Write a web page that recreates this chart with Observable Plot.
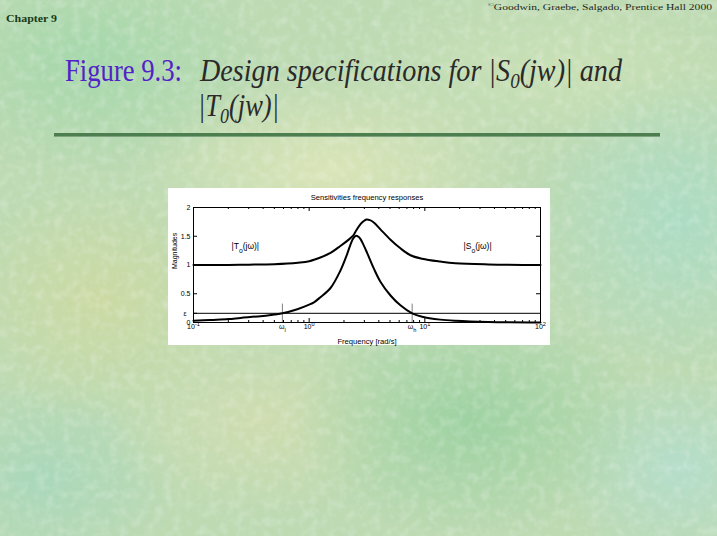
<!DOCTYPE html>
<html>
<head>
<meta charset="utf-8">
<script src="https://cdn.jsdelivr.net/npm/d3@7"></script>
<script src="https://cdn.jsdelivr.net/npm/@observablehq/plot@0.6"></script>
<style>
html, body { margin: 0; padding: 0; width: 717px; height: 536px; overflow: hidden; }
#slide {
  position: relative; width: 717px; height: 536px;
  background-color: #bddab3;
  background-image:
    radial-gradient(ellipse 180px 120px at 90px 60px, rgba(160,215,170,0.8), rgba(160,215,170,0)),
    radial-gradient(ellipse 200px 100px at 330px 170px, rgba(228,232,185,0.75), rgba(228,232,185,0)),
    radial-gradient(ellipse 150px 120px at 100px 300px, rgba(208,218,160,0.8), rgba(208,218,160,0)),
    radial-gradient(ellipse 180px 120px at 470px 420px, rgba(150,208,158,0.8), rgba(150,208,158,0)),
    radial-gradient(ellipse 150px 150px at 680px 220px, rgba(168,220,200,0.8), rgba(168,220,200,0)),
    radial-gradient(ellipse 160px 100px at 260px 420px, rgba(215,222,175,0.7), rgba(215,222,175,0)),
    radial-gradient(ellipse 140px 100px at 40px 480px, rgba(165,215,188,0.8), rgba(165,215,188,0)),
    radial-gradient(ellipse 120px 100px at 680px 470px, rgba(178,222,208,0.8), rgba(178,222,208,0)),
    radial-gradient(ellipse 220px 90px at 560px 70px, rgba(205,226,182,0.7), rgba(205,226,182,0));
}
#deco { position: absolute; left: 0; top: 0; }
#chart { position: absolute; left: 168px; top: 188px; line-height: 0; }
</style>
</head>
<body>
<div id="slide">
  <svg id="deco" width="717" height="536">
    <defs>
      <filter id="tex" x="0" y="0" width="100%" height="100%">
        <feTurbulence type="fractalNoise" baseFrequency="0.11" numOctaves="2" seed="4"/>
        <feColorMatrix type="matrix" values="0 0 0 0 1  0 0 0 0 1  0 0 0 0 1  0 0 0 -2.2 1.25"/>
      </filter>
    </defs>
    <rect x="0" y="0" width="717" height="536" filter="url(#tex)" opacity="0.22"/>
    <text x="488" y="10" font-family="Liberation Serif, Times New Roman, serif" font-size="9" fill="#1e2a1e" textLength="224" lengthAdjust="spacingAndGlyphs"><tspan font-size="6" dy="-3">©</tspan><tspan dy="3">Goodwin, Graebe, Salgado, Prentice Hall 2000</tspan></text>
    <text x="6" y="22" font-family="Liberation Serif, Times New Roman, serif" font-weight="bold" font-size="10.5" fill="#173a17" textLength="51" lengthAdjust="spacingAndGlyphs">Chapter 9</text>
    <text x="65" y="81" font-family="Liberation Serif, Times New Roman, serif" font-size="31" fill="#5222c8" textLength="117" lengthAdjust="spacingAndGlyphs">Figure 9.3:</text>
    <text x="200" y="81" font-family="Liberation Serif, Times New Roman, serif" font-style="italic" font-size="31" fill="#2a2a2a" textLength="422" lengthAdjust="spacingAndGlyphs">Design specifications for |S<tspan font-size="21" dy="7">0</tspan><tspan dy="-7">(jw)| and</tspan></text>
    <text x="198" y="116" font-family="Liberation Serif, Times New Roman, serif" font-style="italic" font-size="31" fill="#2a2a2a" textLength="81" lengthAdjust="spacingAndGlyphs">|T<tspan font-size="21" dy="7">0</tspan><tspan dy="-7">(jw)|</tspan></text>
    <rect x="54" y="133" width="606" height="4" fill="#4d7e4f"/>
    <rect x="54" y="136" width="606" height="1" fill="#7ea47f"/>
  </svg>
  <div id="chart"></div>
</div>
<script>
// ---- data ----
const xDomain = [0.1, 100];
const yDomain = [0, 2];

const tFreq = [0.10, 0.14, 0.20, 0.255, 0.38, 0.50, 0.587, 0.79, 1.00, 1.10, 1.25, 1.53, 1.86, 2.13, 2.28, 2.42, 2.55, 2.67, 2.78, 2.95, 3.17, 3.62, 4.13, 5.05, 6.15, 7.77, 9.48, 13.6, 18.4, 35.5, 100];
const tMag  = [0.03, 0.045, 0.06, 0.08, 0.11, 0.14, 0.16, 0.23, 0.31, 0.35, 0.44, 0.60, 0.90, 1.19, 1.36, 1.47, 1.51, 1.49, 1.45, 1.35, 1.21, 0.94, 0.71, 0.47, 0.30, 0.16, 0.10, 0.05, 0.03, 0.01, 0.002];

const sFreq = [0.10, 0.20, 0.30, 0.50, 0.80, 1.00, 1.25, 1.53, 1.86, 2.13, 2.28, 2.42, 2.55, 2.78, 2.95, 3.13, 3.35, 3.62, 4.13, 5.05, 6.15, 7.51, 9.48, 13.6, 18.4, 35.5, 100];
const sMag  = [1.00, 1.002, 1.006, 1.015, 1.04, 1.065, 1.13, 1.21, 1.33, 1.42, 1.47, 1.52, 1.60, 1.71, 1.76, 1.79, 1.78, 1.74, 1.62, 1.44, 1.29, 1.17, 1.11, 1.06, 1.03, 1.01, 1.00];

const epsilon = 0.16;
const omegaL = 0.587;
const omegaH = 7.77;
const specTickTop = 0.32;

const xTickValues = [0.1, 1, 10, 100];
const xTickLabels = ["10^{-1}", "10^{0}", "10^{1}", "10^{2}"];
const xMinorTicks = [0.2, 0.3, 0.4, 0.5, 0.6, 0.7, 0.8, 0.9, 2, 3, 4, 5, 6, 7, 8, 9, 20, 30, 40, 50, 60, 70, 80, 90];
const omegaLabels = ["ω_{l}", "ω_{h}"];
const yTickValues = [0, 0.5, 1, 1.5, 2];
const yTickLabels = ["0", "0.5", "1", "1.5", "2"];
const epsilonLabel = "ε";

const curveNames = ["|T_{o}(jω)|", "|S_{o}(jω)|"];
const curveLabelFreq = [0.213, 21.6];
const curveLabelMag = [1.32, 1.32];

const chartTitle = "Sensitivities frequency responses";
const xLabel = "Frequency [rad/s]";
const yLabel = "Magnitudes";

// ---- build rows ----
const tRows = tFreq.map((f, i) => ({f, m: tMag[i]}));
const sRows = sFreq.map((f, i) => ({f, m: sMag[i]}));
const xLabelRows = xTickValues.map((v, i) => ({v, label: xTickLabels[i]}))
  .concat([{v: omegaL, label: omegaLabels[0]}, {v: omegaH, label: omegaLabels[1]}]);
const yLabelRows = yTickValues.map((v, i) => ({v, label: yTickLabels[i]}));
const curveLabelRows = curveNames.map((n, i) => ({n, f: curveLabelFreq[i], m: curveLabelMag[i]}));

const W = 382, H = 157, mL = 25, mR = 10, mT = 19, mB = 23;
const innerW = W - mL - mR, innerH = H - mT - mB;

const chart = Plot.plot({
  width: W, height: H,
  marginLeft: mL, marginRight: mR, marginTop: mT, marginBottom: mB,
  x: {type: "log", domain: xDomain, axis: null},
  y: {domain: yDomain, axis: null},
  style: {background: "white", fontFamily: "Liberation Sans, Arial, Helvetica, sans-serif", fontSize: "7px", color: "black", overflow: "visible"},
  marks: [
    Plot.ruleY([epsilon], {stroke: "black", strokeWidth: 1}),
    Plot.ruleX([omegaL, omegaH], {y1: 0, y2: specTickTop, stroke: "#808080", strokeWidth: 1}),
    Plot.line(tRows, {x: "f", y: "m", curve: "catmull-rom", stroke: "black", strokeWidth: 2}),
    Plot.line(sRows, {x: "f", y: "m", curve: "catmull-rom", stroke: "black", strokeWidth: 2}),
    Plot.frame({stroke: "black", strokeWidth: 1}),
    // inward ticks
    Plot.ruleX(xTickValues, {insetTop: innerH - 4, stroke: "black"}),
    Plot.ruleX(xTickValues, {insetBottom: innerH - 4, stroke: "black"}),
    Plot.ruleX(xMinorTicks, {insetTop: innerH - 2, stroke: "black"}),
    Plot.ruleX(xMinorTicks, {insetBottom: innerH - 2, stroke: "black"}),
    Plot.ruleY(yTickValues.concat([epsilon]), {insetRight: innerW - 4, stroke: "black"}),
    Plot.ruleY(yTickValues, {insetLeft: innerW - 4, stroke: "black"}),
    // tick labels
    Plot.text(xLabelRows, {x: "v", text: "label", frameAnchor: "bottom", lineAnchor: "top", dy: 1.5, fontSize: 7}),
    Plot.text(yLabelRows, {x: () => xDomain[0], y: "v", text: "label", textAnchor: "end", dx: -3, fontSize: 7}),
    Plot.text([epsilonLabel], {x: () => xDomain[0], y: () => epsilon, text: d => d, textAnchor: "end", dx: -7, fontSize: 7}),
    // titles
    Plot.text([chartTitle], {text: d => d, frameAnchor: "top", lineAnchor: "middle", dy: -9.5, fontSize: 7.6}),
    Plot.text([xLabel], {text: d => d, frameAnchor: "bottom", lineAnchor: "middle", dy: 19, fontSize: 7.6}),
    Plot.text([yLabel], {text: d => d, frameAnchor: "left", rotate: -90, dx: -19, dy: 4, fontSize: 7}),
    // curve labels
    Plot.text(curveLabelRows, {x: "f", y: "m", text: "n", textAnchor: "start", fontSize: 8.5})
  ]
});

document.getElementById("chart").appendChild(chart);

// turn _{..} and ^{..} markup into real sub/superscript tspans
function richify(root) {
  root.querySelectorAll("text").forEach(t => {
    const s = t.textContent;
    if (!/[_^]\{/.test(s)) return;
    const fs = parseFloat(getComputedStyle(t).fontSize) || 7;
    while (t.firstChild) t.removeChild(t.firstChild);
    const re = /([_^])\{([^}]*)\}/g;
    let last = 0, m, pending = 0;
    const add = (str, size, dy) => {
      const sp = document.createElementNS("http://www.w3.org/2000/svg", "tspan");
      if (size) sp.setAttribute("font-size", size);
      if (dy) sp.setAttribute("dy", dy);
      sp.textContent = str;
      t.appendChild(sp);
    };
    while ((m = re.exec(s))) {
      if (m.index > last) { add(s.slice(last, m.index), null, pending); pending = 0; }
      const shift = m[1] === "^" ? -0.42 * fs : 0.42 * fs;
      add(m[2], (fs * 0.8).toFixed(2), shift + pending);
      pending = -shift;
      last = re.lastIndex;
    }
    if (last < s.length) add(s.slice(last), null, pending);
  });
}
richify(chart);
</script>
</body>
</html>
